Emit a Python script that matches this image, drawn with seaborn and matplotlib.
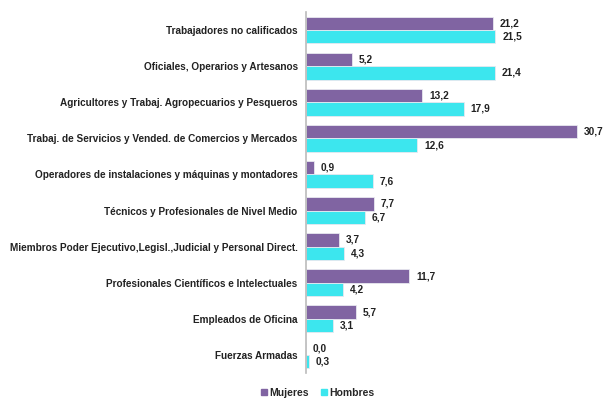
import matplotlib
matplotlib.use('Agg')
import matplotlib.pyplot as plt
import seaborn as sns
import pandas as pd

categorias = [
    'Trabajadores no calificados',
    'Oficiales, Operarios y Artesanos',
    'Agricultores y Trabaj. Agropecuarios y Pesqueros',
    'Trabaj. de Servicios y Vended. de Comercios y Mercados',
    'Operadores de instalaciones y máquinas y montadores',
    'Técnicos y Profesionales de Nivel Medio',
    'Miembros Poder Ejecutivo,Legisl.,Judicial y Personal Direct.',
    'Profesionales Científicos e Intelectuales',
    'Empleados de Oficina',
    'Fuerzas Armadas',
]
mujeres = [21.2, 5.2, 13.2, 30.7, 0.9, 7.7, 3.7, 11.7, 5.7, 0.0]
hombres = [21.5, 21.4, 17.9, 12.6, 7.6, 6.7, 4.3, 4.2, 3.1, 0.3]

df = pd.DataFrame({
    'categoria': categorias * 2,
    'valor': mujeres + hombres,
    'sexo': ['Mujeres'] * len(categorias) + ['Hombres'] * len(categorias),
})

sns.set_style('white')
plt.rcParams['font.family'] = ['Liberation Sans', 'DejaVu Sans']

fig = plt.figure(figsize=(6.03, 4.01), dpi=100)
ax = fig.add_axes([306 / 603, 28 / 401, 297 / 603, 361 / 401])

colores = {'Mujeres': '#8064A2', 'Hombres': '#3CE6EE'}
sns.barplot(data=df, y='categoria', x='valor', hue='sexo', palette=colores,
            orient='h', width=0.74, edgecolor='#E8E8F0', linewidth=0.6,
            saturation=1, ax=ax, legend=False)

for cont in ax.containers:
    ax.bar_label(cont, labels=[f'{v:.1f}'.replace('.', ',') for v in cont.datavalues],
                 padding=5, fontsize=7.3, fontweight='bold', color='#222222')

ax.set_xlim(0, 33.7)
ax.set_ylim(9.5, -0.5)
ax.set_xlabel('')
ax.set_ylabel('')
ax.set_xticks([])
ax.tick_params(axis='y', length=0, pad=6)
for lab in ax.get_yticklabels():
    lab.set_fontweight('bold')
    lab.set_fontsize(7.2)
    lab.set_color('#222222')

for s in ['top', 'right', 'bottom']:
    ax.spines[s].set_visible(False)
ax.spines['left'].set_color('#BBBBBB')
ax.spines['left'].set_linewidth(1.2)

handles = [plt.Rectangle((0, 0), 1, 1, color=colores[k]) for k in ['Mujeres', 'Hombres']]
fig.legend(handles, ['Mujeres', 'Hombres'], loc='lower center', bbox_to_anchor=(0.527, -0.015),
           ncol=2, frameon=False, handlelength=0.55, handleheight=0.55, handletextpad=0.2,
           columnspacing=1.2, prop={'size': 7.5, 'weight': 'bold'})

fig.savefig('out.png', dpi=100)
